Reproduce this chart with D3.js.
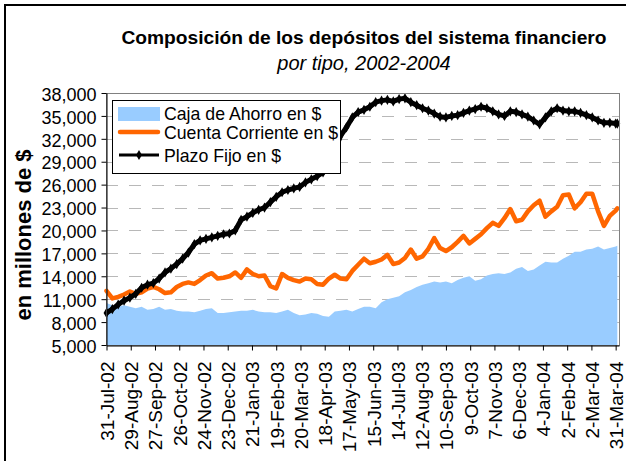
<!DOCTYPE html>
<html>
<head>
<meta charset="utf-8">
<script src="https://cdn.jsdelivr.net/npm/d3@7"></script>
<style>
  body { margin: 0; background: #fff; }
  svg { display: block; font-family: "Liberation Sans", Arial, sans-serif; }
</style>
</head>
<body>
<div id="chart"></div>
<script>
// fechas (semanales) y series en millones de $
const dates = [
  "31-Jul-02","7-Aug-02","14-Aug-02","21-Aug-02","28-Aug-02","4-Sep-02","11-Sep-02","18-Sep-02","25-Sep-02","2-Oct-02",
  "9-Oct-02","16-Oct-02","23-Oct-02","30-Oct-02","6-Nov-02","13-Nov-02","20-Nov-02","27-Nov-02","4-Dec-02","11-Dec-02",
  "18-Dec-02","25-Dec-02","1-Jan-03","8-Jan-03","15-Jan-03","22-Jan-03","29-Jan-03","5-Feb-03","12-Feb-03","19-Feb-03",
  "26-Feb-03","5-Mar-03","12-Mar-03","19-Mar-03","26-Mar-03","2-Apr-03","9-Apr-03","16-Apr-03","23-Apr-03","30-Apr-03",
  "7-May-03","14-May-03","21-May-03","28-May-03","4-Jun-03","11-Jun-03","18-Jun-03","25-Jun-03","2-Jul-03","9-Jul-03",
  "16-Jul-03","23-Jul-03","30-Jul-03","6-Aug-03","13-Aug-03","20-Aug-03","27-Aug-03","3-Sep-03","10-Sep-03","17-Sep-03",
  "24-Sep-03","1-Oct-03","8-Oct-03","15-Oct-03","22-Oct-03","29-Oct-03","5-Nov-03","12-Nov-03","19-Nov-03","26-Nov-03",
  "3-Dec-03","10-Dec-03","17-Dec-03","24-Dec-03","31-Dec-03","7-Jan-04","14-Jan-04","21-Jan-04","28-Jan-04","4-Feb-04",
  "11-Feb-04","18-Feb-04","25-Feb-04","3-Mar-04","10-Mar-04","17-Mar-04","24-Mar-04","31-Mar-04","2-Apr-04"
];

const cajaAhorro = [
  10500,10200,10000,10200,10000,9800,10000,9600,9700,10000,
  9600,9700,9500,9400,9400,9300,9500,9700,9800,9200,
  9200,9300,9400,9500,9500,9600,9400,9300,9300,9200,
  9400,9600,9200,8900,9000,9200,9100,8800,8700,9400,
  9500,9600,9400,9700,10000,10000,9800,10600,11000,11200,
  11400,11900,12200,12600,12900,13100,13300,13200,13300,13100,
  13500,13800,14000,13400,13600,14100,14300,14400,14300,14500,
  15000,15200,14700,14900,15400,15900,15800,15800,16300,16700,
  17200,17200,17500,17600,17900,17500,17700,17900,18000
];

const cuentaCorriente = [
  12100,11100,11300,11600,12000,11700,11900,12400,12600,12300,
  11800,11900,12600,13000,13200,13000,13500,14100,14400,13700,
  13800,14000,14500,13800,14900,14300,14000,14100,12700,12400,
  14300,13800,13500,13300,13700,13600,13000,12900,13700,14200,
  13700,13600,14700,15500,16300,15700,15900,16200,16800,15600,
  15800,16400,17500,16300,16600,17600,19000,17700,17300,17800,
  18500,19300,18300,18900,19500,20300,21000,20600,21600,22800,
  21200,21400,22500,23300,23900,21800,22500,23100,24600,24700,
  22900,23700,24800,24800,22500,20600,21900,22600,22900
];

const plazoFijo = [
  9200,9700,10300,10800,11200,11700,12500,12900,13100,13700,
  14500,15000,15600,16300,17100,18200,18700,18900,19100,19300,
  19500,19600,20000,21400,21800,22300,22700,23000,23700,24400,
  25000,25300,25500,25700,26300,26700,27100,27600,28800,30500,
  32400,33500,34800,35500,35800,36200,36800,37000,37100,36900,
  37200,37300,36800,36400,36000,35700,35300,34900,34800,35000,
  35100,35400,35700,35900,36200,36000,35600,35200,35000,35600,
  35500,35200,34900,34400,33900,34800,35600,36000,35700,35600,
  35600,35400,35100,34800,34400,34100,34100,34000,34000
];

const xTickLabels = [
  "31-Jul-02","29-Aug-02","27-Sep-02","26-Oct-02","24-Nov-02","23-Dec-02","21-Jan-03","19-Feb-03",
  "20-Mar-03","18-Apr-03","17-May-03","15-Jun-03","14-Jul-03","12-Aug-03","10-Sep-03","9-Oct-03",
  "7-Nov-03","6-Dec-03","4-Jan-04","2-Feb-04","2-Mar-04","31-Mar-04"
];
const yTicks = [5000,8000,11000,14000,17000,20000,23000,26000,29000,32000,35000,38000];

const seriesNames = ["Caja de Ahorro en $", "Cuenta Corriente en $", "Plazo Fijo en $"];

function drawChart(container) {
    const width = 626, height = 461;
    const plot = { left: 106, right: 619, top: 93, bottom: 345 };
    const parse = d3.timeParse("%d-%b-%y");
    const dt = dates.map(parse);

    const svg = d3.select(container).append('svg')
        .attr('width', width)
        .attr('height', height);

    svg.append('rect').attr('width', width).attr('height', height).attr('fill', '#fff');

    const x = d3.scaleTime()
        .domain([parse("31-Jul-02"), parse("4-Apr-04")])
        .range([plot.left + 0.5, plot.right]);
    const y = d3.scaleLinear().domain([5000, 38000]).range([plot.bottom, plot.top]);

    // lineas de grilla punteadas
    svg.append('g').selectAll('line')
        .data(yTicks.slice(1, -1))
        .enter().append('line')
        .attr('x1', plot.left).attr('x2', plot.right)
        .attr('y1', d => Math.round(y(d)) + 0.5).attr('y2', d => Math.round(y(d)) + 0.5)
        .attr('stroke', '#b8b8b8')
        .attr('stroke-width', 1)
        .attr('stroke-dasharray', '12,11');

    // area caja de ahorro
    const area = d3.area()
        .x((_, i) => x(dt[i]))
        .y0(y(5000))
        .y1(d => y(d));
    svg.append('path').datum(cajaAhorro)
        .attr('fill', '#99ccff')
        .attr('d', area);

    // cuenta corriente
    const line = d3.line().x((_, i) => x(dt[i])).y(d => y(d));
    svg.append('path').datum(cuentaCorriente)
        .attr('fill', 'none')
        .attr('stroke', '#ff6600')
        .attr('stroke-width', 4.5)
        .attr('stroke-linejoin', 'round')
        .attr('stroke-linecap', 'round')
        .attr('d', line);

    // plazo fijo con marcadores
    svg.append('path').datum(plazoFijo)
        .attr('fill', 'none')
        .attr('stroke', '#000')
        .attr('stroke-width', 5)
        .attr('stroke-linejoin', 'round')
        .attr('d', line);
    const diamond = d3.symbol().type(d3.symbolDiamond).size(30);
    svg.append('g').selectAll('path')
        .data(plazoFijo)
        .enter().append('path')
        .attr('transform', (d, i) => `translate(${x(dt[i])},${y(d)})`)
        .attr('d', diamond)
        .attr('fill', '#000');

    // borde del area de grafico
    svg.append('rect')
        .attr('x', plot.left + 0.5).attr('y', plot.top + 0.5)
        .attr('width', plot.right - plot.left).attr('height', plot.bottom - plot.top)
        .attr('fill', 'none')
        .attr('stroke', '#808080');

    // ejes
    const yAxis = d3.axisLeft(y).tickValues(yTicks).tickSize(5).tickSizeOuter(0).tickFormat(d3.format(','));
    const gy = svg.append('g').attr('transform', `translate(${plot.left + 0.5},0)`).call(yAxis);
    gy.selectAll('text').attr('x', -10).attr('dy', '0.4em').style('font-size', '18px').attr('fill', '#000');

    const xAxis = d3.axisBottom(x)
        .tickValues(xTickLabels.map(parse))
        .tickSize(5).tickSizeOuter(0)
        .tickFormat(d3.timeFormat('%-d-%b-%y'));
    const gx = svg.append('g').attr('transform', `translate(0,${plot.bottom + 0.5})`).call(xAxis);
    gx.selectAll('text')
        .attr('transform', 'rotate(-90)')
        .attr('x', -16).attr('y', 0).attr('dy', '0.36em')
        .style('text-anchor', 'end')
        .style('font-size', '19px')
        .attr('fill', '#000');
    svg.selectAll('.domain, .tick line').attr('stroke', '#000');

    // titulos
    svg.append('text').attr('x', 364).attr('y', 44).attr('text-anchor', 'middle')
        .style('font-size', '19.2px').style('font-weight', 'bold')
        .text('Composición de los depósitos del sistema financiero');
    svg.append('text').attr('x', 364).attr('y', 70).attr('text-anchor', 'middle')
        .style('font-size', '20px').style('font-style', 'italic')
        .text('por tipo, 2002-2004');
    svg.append('text')
        .attr('transform', 'translate(31,235) rotate(-90)')
        .attr('text-anchor', 'middle')
        .style('font-size', '22px').style('font-weight', 'bold')
        .text('en millones de $');

    // leyenda
    const lg = svg.append('g');
    lg.append('rect').attr('x', 112.5).attr('y', 100.5).attr('width', 228).attr('height', 73)
        .attr('fill', '#fff').attr('stroke', '#000');
    const rowY = [113, 132, 155];
    lg.append('rect').attr('x', 118).attr('y', 107).attr('width', 42).attr('height', 14).attr('fill', '#99ccff');
    lg.append('line').attr('x1', 120).attr('x2', 158).attr('y1', rowY[1]).attr('y2', rowY[1])
        .attr('stroke', '#ff6600').attr('stroke-width', 4.5).attr('stroke-linecap', 'round');
    lg.append('line').attr('x1', 119).attr('x2', 159).attr('y1', rowY[2]).attr('y2', rowY[2])
        .attr('stroke', '#000').attr('stroke-width', 3);
    lg.append('path').attr('transform', `translate(139,${rowY[2]})`)
        .attr('d', d3.symbol().type(d3.symbolDiamond).size(30)).attr('fill', '#000');
    lg.selectAll('text.lbl').data(seriesNames).enter().append('text')
        .attr('class', 'lbl')
        .attr('x', 164)
        .attr('y', (_, i) => rowY[i] + 6.5)
        .style('font-size', '17.7px')
        .text(d => d);

    // borde exterior
    svg.append('rect').attr('x', 5).attr('y', 5).attr('width', 700).attr('height', 600)
        .attr('fill', 'none').attr('stroke', '#000').attr('stroke-width', 2);
}

drawChart(document.getElementById('chart'));
</script>
</body>
</html>
